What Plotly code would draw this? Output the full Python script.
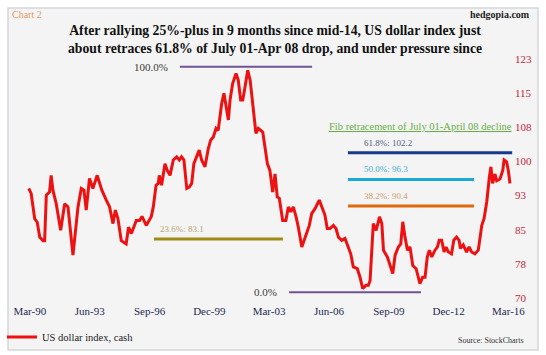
import plotly.graph_objects as go

# ---------------- data ----------------
dates = [
    "1990-02-07", "1990-03-27", "1990-06-05", "1990-07-26", "1990-09-13", "1990-11-18", "1990-12-20",
    "1991-01-22", "1991-03-27", "1991-04-28", "1991-06-02", "1991-08-07", "1991-11-03",
    "1992-01-22", "1992-03-27", "1992-07-04", "1992-10-12", "1992-12-16",
    "1993-02-07", "1993-03-24", "1993-05-28", "1993-08-03", "1993-10-28",
    "1994-01-28", "1994-04-26", "1994-07-01", "1994-09-06", "1994-10-23", "1994-12-13",
    "1995-02-18", "1995-05-25", "1995-07-12", "1995-09-06", "1995-12-13",
    "1996-02-18", "1996-04-04", "1996-06-27", "1996-10-04", "1996-11-14",
    "1997-01-08", "1997-02-21", "1997-03-13", "1997-04-28", "1997-07-04", "1997-08-18", "1997-10-12", "1997-12-16",
    "1998-02-21", "1998-04-15", "1998-05-28", "1998-07-15", "1998-09-09", "1998-10-28", "1998-12-16",
    "1999-01-28", "1999-03-24", "1999-05-14", "1999-07-01", "1999-09-06", "1999-11-10", "1999-12-27",
    "2000-02-18", "2000-04-12", "2000-05-25", "2000-07-01", "2000-08-03", "2000-09-16", "2000-10-26", "2000-12-13",
    "2001-01-15", "2001-03-09", "2001-05-14", "2001-06-27", "2001-08-14", "2001-09-24", "2001-11-10",
    "2002-01-01", "2002-02-18", "2002-04-22", "2002-06-13", "2002-07-30", "2002-10-26", "2002-12-09",
    "2003-01-26", "2003-03-17", "2003-05-11", "2003-06-27", "2003-08-10", "2003-09-20", "2003-11-25",
    "2004-01-28", "2004-03-17", "2004-05-03", "2004-06-23", "2004-08-18", "2004-10-01", "2004-12-09",
    "2005-02-14", "2005-05-07", "2005-06-23", "2005-08-28", "2005-11-21",
    "2006-01-08", "2006-03-13", "2006-04-28", "2006-06-23", "2006-08-28", "2006-10-19", "2006-12-06",
    "2007-02-10", "2007-04-15", "2007-06-20", "2007-08-07", "2007-09-27", "2007-12-16",
    "2008-02-07", "2008-04-01", "2008-06-05", "2008-07-22", "2008-08-25", "2008-10-28", "2008-12-23",
    "2009-02-28", "2009-04-15", "2009-05-18", "2009-08-03", "2009-09-27", "2009-11-18",
    "2010-01-04", "2010-03-09", "2010-04-26", "2010-06-05", "2010-07-19", "2010-09-06", "2010-10-26", "2010-12-20",
    "2011-02-25", "2011-04-08", "2011-05-11", "2011-07-04", "2011-08-21", "2011-10-04", "2011-11-14",
    "2012-01-01", "2012-03-05", "2012-04-22", "2012-05-28", "2012-07-15", "2012-09-02", "2012-10-12", "2012-11-25",
    "2013-01-28", "2013-03-13", "2013-05-07", "2013-06-27", "2013-07-22", "2013-09-16", "2013-11-21",
    "2014-01-11", "2014-03-02", "2014-05-07", "2014-07-12", "2014-09-20", "2014-11-03", "2014-12-27",
    "2015-02-18", "2015-03-20", "2015-04-22", "2015-06-09", "2015-07-12", "2015-09-16", "2015-11-10", "2015-12-06",
    "2016-01-26", "2016-02-28", "2016-04-01",
]
dxy = [
    94.3, 93.2, 87.6, 86.8, 83.5, 82.7, 82.7,
    92.8, 93.5, 97.2, 93.9, 90.9, 85.0,
    90.9, 90.2, 79.5, 90.2, 94.3,
    93.9, 89.5, 96.5, 94.3, 97.2,
    93.9, 91.7, 90.2, 86.5, 89.5, 87.6,
    82.7, 82.0, 85.7, 84.3, 87.2,
    87.2, 88.1, 86.1, 88.0, 90.2,
    95.0, 95.4, 97.2, 95.0, 99.8, 98.3, 97.2, 100.6,
    101.3, 100.6, 101.3, 100.6, 94.3, 94.6, 95.4,
    99.8, 101.3, 102.8, 100.6, 99.1, 103.1, 105.0,
    105.7, 107.6, 107.2, 110.2, 113.2, 115.4, 112.4, 109.5,
    113.9, 117.6, 119.8, 118.3, 113.9, 113.9, 116.9,
    120.5, 118.3, 111.6, 106.5, 107.6, 106.8, 103.5,
    99.8, 98.3, 93.5, 97.5, 92.4, 92.1, 87.2,
    87.2, 90.2, 89.1, 90.2, 88.0, 85.7, 81.3,
    83.5, 86.1, 88.7, 89.8, 91.7,
    90.2, 88.4, 85.4, 85.4, 86.1, 85.4, 83.5,
    82.8, 83.2, 81.3, 79.8, 76.9, 76.5,
    74.6, 72.1, 72.8, 72.8, 73.9, 86.5, 85.0,
    88.0, 86.5, 80.6, 79.1, 76.9, 75.4,
    79.5, 81.3, 82.0, 86.9, 83.5, 80.6, 81.3, 77.2,
    76.5, 74.3, 73.2, 74.6, 74.6, 79.1, 80.6,
    79.1, 80.6, 81.3, 82.8, 82.8, 80.2, 81.3, 80.2,
    79.8, 82.8, 83.5, 82.8, 81.0, 81.8, 80.2,
    81.3, 80.2, 79.8, 80.6, 86.1, 87.6, 91.3,
    96.9, 99.1, 95.4, 97.5, 96.0, 96.4, 98.3, 100.6,
    100.2, 98.3, 95.4,
]

# Fibonacci levels (value, label, segment start/end)
fib_names = ["100.0%", "0.0%", "23.6%", "38.2%", "50.0%", "61.8%"]
fib_values = [121.3, 71.3, 83.1, 90.4, 96.3, 102.2]
fib_start = ["1998-04-25", "2004-04-01", "1996-11-28", "2007-06-13", "2007-06-13", "2007-06-13"]
fib_end = ["2005-07-01", "2011-06-01", "2003-12-01", "2014-04-18", "2014-04-18", "2016-05-15"]
fib_line_colors = ["#715394", "#715394", "#9e8b12", "#e2690b", "#1aa7d9", "#17398c"]
fib_text_colors = ["#3a3a3a", "#3a3a3a", "#b3a86e", "#d79b6b", "#3fb2d4", "#4f5f86"]
fib_widths = [2, 2, 3, 3, 3, 3]

x_tick_vals = ["1990-03-01", "1993-06-01", "1996-09-01", "1999-12-01", "2003-03-01",
               "2006-06-01", "2009-09-01", "2012-12-01", "2016-03-01"]
x_tick_text = ["Mar-90", "Jun-93", "Sep-96", "Dec-99", "Mar-03", "Jun-06", "Sep-09", "Dec-12", "Mar-16"]
y_tick_vals = [70, 77.571, 85.143, 92.714, 100.286, 107.857, 115.429, 123]
y_tick_text = ["70", "78", "85", "93", "100", "108", "115", "123"]

title_lines = ["After rallying 25%-plus in 9 months since mid-14, US dollar index just",
               "about retraces 61.8% of July 01-Apr 08 drop, and under pressure since"]

# ---------------- layout geometry ----------------
W, H = 546, 355
ML, MR, MT, MB = 26, 32, 59, 57
PW, PH = W - ML - MR, H - MT - MB
SERIF = "Liberation Serif, Times New Roman, serif"


def px2paper_x(px):
    return (px - ML) / PW


def py2paper_y(py):
    return (H - MB - py) / PH


fig = go.Figure()

# fib segments
for i in range(len(fib_values)):
    fig.add_trace(go.Scatter(
        x=[fib_start[i], fib_end[i]], y=[fib_values[i], fib_values[i]],
        mode="lines", line=dict(color=fib_line_colors[i], width=fib_widths[i]),
        showlegend=False, hoverinfo="skip"))

# main series
fig.add_trace(go.Scatter(
    x=dates, y=dxy, mode="lines", name="US dollar index, cash",
    line=dict(color="#ee1111", width=3)))

annotations = []
# fib labels
for i in range(len(fib_values)):
    if i < 2:
        annotations.append(dict(x=fib_start[i], y=fib_values[i], xref="x", yref="y",
                                text=fib_names[i], showarrow=False, xanchor="right",
                                yanchor="middle", xshift=-10,
                                font=dict(family=SERIF, size=11, color=fib_text_colors[i])))
    else:
        annotations.append(dict(x=fib_start[i], y=fib_values[i], xref="x", yref="y",
                                text=f"{fib_names[i]}: {fib_values[i]:.1f}", showarrow=False,
                                xanchor="left", yanchor="middle",
                                xshift=(4 if i == 2 else 14), yshift=10,
                                font=dict(family=SERIF, size=9, color=fib_text_colors[i])))
annotations.append(dict(x=fib_start[5], y=fib_values[5], xref="x", yref="y",
                        text="<u>Fib retracement of July 01-April 08 decline</u>", showarrow=False,
                        xanchor="left", yanchor="middle", xshift=-21, yshift=26,
                        font=dict(family=SERIF, size=10.5, color="#6aae4a")))
# title
annotations.append(dict(x=px2paper_x(275), y=py2paper_y(39.5), xref="paper", yref="paper",
                        text="<br>".join("<b>" + t + "</b>" for t in title_lines), showarrow=False,
                        xanchor="center", yanchor="middle",
                        font=dict(family=SERIF, size=13.7, color="#111111")))
annotations.append(dict(x=px2paper_x(10), y=py2paper_y(14), xref="paper", yref="paper",
                        text="Chart 2", showarrow=False, xanchor="left", yanchor="middle",
                        font=dict(family=SERIF, size=10, color="#e39a63")))
annotations.append(dict(x=px2paper_x(532), y=py2paper_y(15), xref="paper", yref="paper",
                        text="<b>hedgopia.com</b>", showarrow=False, xanchor="right", yanchor="middle",
                        font=dict(family=SERIF, size=10, color="#222222")))
annotations.append(dict(x=px2paper_x(526), y=py2paper_y(340), xref="paper", yref="paper",
                        text="Source: StockCharts", showarrow=False, xanchor="right", yanchor="middle",
                        font=dict(family=SERIF, size=8, color="#333333")))

shapes = [dict(type="rect", xref="paper", yref="paper", layer="below",
               x0=px2paper_x(8), x1=px2paper_x(538), y0=py2paper_y(350), y1=py2paper_y(8),
               fillcolor="#f4f4f4", line=dict(color="#d3d6da", width=1.5))]

fig.update_layout(
    width=W, height=H,
    margin=dict(l=ML, r=MR, t=MT, b=MB, autoexpand=False),
    paper_bgcolor="#ffffff",
    plot_bgcolor="#fbfbea",
    font=dict(family=SERIF, size=11),
    showlegend=True,
    legend=dict(x=px2paper_x(2), y=py2paper_y(337), xanchor="left", yanchor="middle",
                bgcolor="rgba(0,0,0,0)", font=dict(family=SERIF, size=10.5, color="#222222"),
                itemwidth=30, tracegroupgap=0),
    annotations=annotations,
    shapes=shapes,
    xaxis=dict(type="date", range=["1989-12-15", "2016-06-20"],
               tickvals=x_tick_vals, ticktext=x_tick_text,
               tickfont=dict(family=SERIF, size=11, color="#1f2a55"),
               ticklabelstandoff=5,
               showgrid=False, zeroline=False, showline=False, ticks=""),
    yaxis=dict(range=[70, 123], side="right",
               tickvals=y_tick_vals, ticktext=y_tick_text,
               tickfont=dict(family=SERIF, size=11, color="#c0283a"),
               showgrid=False, zeroline=False, showline=False, ticks=""),
)

fig.write_html("out.html", config={"displayModeBar": False},
               post_script="document.body.style.margin='0px';document.body.style.overflow='hidden';")
